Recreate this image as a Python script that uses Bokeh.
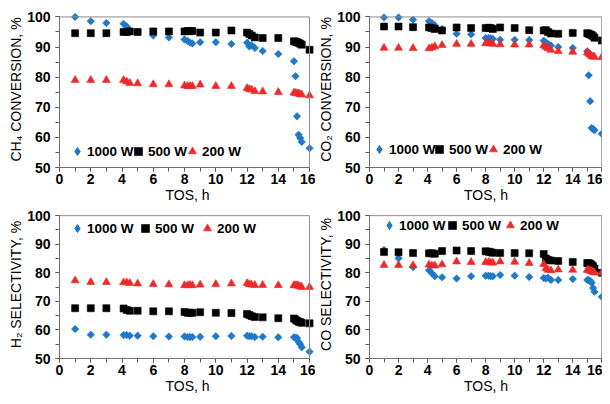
from math import pi
from bokeh.plotting import figure
from bokeh.models import Legend, LegendItem, BoxAnnotation, SingleIntervalTicker, Range1d
from bokeh.layouts import column, row
from bokeh.embed import file_html
from bokeh.resources import INLINE

# ---------------- data ----------------
TOS = [1, 2, 3, 4.1, 4.3, 4.5, 5, 6, 7, 8, 8.2, 8.35, 8.5, 9, 10, 11, 12, 12.15, 12.3, 12.5,
       13, 14, 15, 15.1, 15.2, 15.3, 15.4, 15.5, 16]

SERIES = ["1000 W", "500 W", "200 W"]

ch4_conv_1000 = [100, 98.6, 98.0, 97.7, 96.8, 95.6, 95.0, 93.8, 93.2, 92.5, 92.0, 91.5, 91.2, 91.6,
                 91.6, 91.0, 91.4, 90.2, 90.6, 89.7, 88.7, 87.7, 85.3, 80.3, 67.0, 60.9, 59.8, 58.5, 56.4]
ch4_conv_500 = [94.6, 94.6, 94.6, 95.0, 95.0, 95.2, 95.0, 95.2, 95.2, 95.2, 95.3, 95.3, 95.3, 94.8,
                94.8, 95.5, 94.8, 94.3, 93.8, 93.2, 93.0, 93.0, 91.9, 91.8, 91.6, 91.4, 91.1, 90.8, 89.1]
ch4_conv_200 = [79.0, 79.0, 79.0, 79.0, 78.5, 78.0, 77.9, 77.6, 77.6, 77.2, 77.0, 77.0, 77.0, 77.5,
                77.0, 77.0, 76.3, 76.0, 75.8, 75.3, 75.2, 75.0, 74.8, 74.7, 74.6, 74.5, 74.3, 74.2, 73.9]

co2_conv_1000 = [99.8, 99.8, 99.1, 98.6, 98.0, 97.2, 96.0, 94.4, 94.2, 93.0, 93.0, 92.9, 92.7, 92.4,
                 92.4, 92.3, 92.1, 91.5, 91.0, 90.5, 90.0, 89.7, 88.6, 80.6, 72.0, 63.1, 62.8, 62.4, 61.2]
co2_conv_500 = [96.8, 96.8, 96.6, 96.5, 96.3, 96.0, 95.5, 96.5, 96.3, 96.3, 96.4, 96.3, 96.0, 96.5,
                96.3, 95.6, 95.5, 95.6, 95.0, 94.5, 94.4, 94.7, 94.6, 94.4, 94.2, 94.0, 93.6, 93.1, 92.2]
co2_conv_200 = [89.7, 89.7, 89.6, 89.5, 89.8, 90.2, 90.6, 91.0, 91.0, 91.2, 91.3, 91.2, 91.0, 90.9,
                90.8, 90.8, 90.5, 90.0, 89.5, 89.0, 88.6, 88.4, 88.2, 87.8, 87.4, 87.0, 86.8, 86.7, 86.6]

h2_sel_1000 = [60.3, 58.3, 58.3, 58.2, 58.2, 58.0, 58.0, 57.8, 57.7, 57.7, 57.5, 57.5, 57.5, 57.6,
               57.8, 57.9, 58.0, 57.8, 57.8, 57.5, 57.6, 57.4, 57.4, 57.3, 57.2, 55.8, 55.0, 53.9, 52.4]
h2_sel_500 = [67.6, 67.6, 67.6, 67.5, 67.0, 66.7, 66.7, 66.5, 66.5, 66.3, 66.0, 66.0, 66.0, 66.2,
              66.0, 65.9, 65.6, 65.2, 64.8, 64.5, 64.4, 64.1, 64.0, 63.6, 63.2, 62.9, 62.7, 62.5, 62.3]
h2_sel_200 = [77.3, 76.7, 76.7, 76.6, 76.6, 76.4, 76.2, 76.0, 75.9, 75.6, 75.6, 75.7, 75.6, 75.8,
              76.0, 76.2, 76.3, 76.0, 75.8, 75.7, 75.7, 75.6, 75.6, 75.6, 75.6, 75.4, 75.2, 75.0, 75.0]

co_sel_1000 = [88.0, 85.1, 82.0, 80.9, 79.8, 78.8, 78.4, 78.0, 78.8, 79.0, 79.0, 78.8, 78.8, 79.2,
               79.0, 78.5, 78.2, 78.0, 78.3, 77.5, 77.5, 77.8, 77.5, 77.4, 77.2, 76.5, 74.7, 73.4, 71.6]
co_sel_500 = [87.3, 87.2, 86.9, 86.8, 86.8, 86.7, 87.6, 87.8, 87.6, 87.5, 87.4, 87.2, 87.0, 86.9,
              86.9, 86.8, 86.6, 85.0, 84.5, 84.3, 84.1, 83.8, 83.4, 83.3, 83.2, 82.8, 82.3, 81.5, 80.0]
co_sel_200 = [82.7, 82.7, 82.6, 82.8, 82.5, 82.5, 82.9, 83.9, 83.7, 83.7, 83.7, 83.5, 83.5, 83.9,
              83.8, 83.4, 83.0, 81.5, 81.0, 80.8, 81.1, 81.0, 81.0, 80.9, 80.7, 80.5, 80.3, 80.0, 80.0]

X_TICK_INTERVAL = 2
Y_TICK_INTERVAL = 10
X_TITLE = "TOS, h"

# ---------------- style ----------------
FONT = "Liberation Sans"
BLUE = "#1f78c8"
BLACK = "#000000"
RED = "#ec2a2a"
AXIS_COLOR = "#595959"
FRAME_COLOR = "#8c8c8c"


def make_panel(width, height, bl, br, bt, bb, x_end, vals, ytitle, leg_xs, leg_y):
    p = figure(width=width, height=height, output_backend="svg", toolbar_location=None,
               x_range=Range1d(0, x_end), y_range=Range1d(50, 101.8),
               min_border_left=bl, min_border_right=br, min_border_top=bt, min_border_bottom=bb)
    p.outline_line_color = None
    p.grid.visible = False
    p.border_fill_color = "white"
    p.background_fill_color = "white"

    p.xaxis.ticker = SingleIntervalTicker(interval=X_TICK_INTERVAL, num_minor_ticks=2)
    p.yaxis.ticker = SingleIntervalTicker(interval=Y_TICK_INTERVAL, num_minor_ticks=2)
    p.xaxis.bounds = (0, 16)
    p.yaxis.bounds = (50, 100)
    p.xaxis.axis_label = X_TITLE
    p.yaxis.axis_label = ytitle
    for ax in p.axis:
        ax.axis_line_color = AXIS_COLOR
        ax.major_tick_line_color = AXIS_COLOR
        ax.minor_tick_line_color = AXIS_COLOR
        ax.major_tick_in = 0
        ax.major_tick_out = 4
        ax.minor_tick_in = 0
        ax.minor_tick_out = 4
        ax.major_label_text_font = FONT
        ax.major_label_text_font_size = "14px"
        ax.major_label_text_font_style = "bold"
        ax.major_label_text_color = "black"
        ax.axis_label_text_font = FONT
        ax.axis_label_text_font_size = "14px"
        ax.axis_label_text_font_style = "normal"
        ax.axis_label_text_color = "black"
        ax.axis_label_standoff = 0
    p.xaxis.major_label_standoff = 2
    p.yaxis.major_label_standoff = 5

    p.add_layout(BoxAnnotation(left=0, right=16, bottom=50, top=100, fill_alpha=0,
                               line_color=FRAME_COLOR, line_alpha=1, line_width=1))

    # legend swatch for the diamond series (legend glyphs ignore marker angle);
    # it sits hidden under the first real point
    r1_key = p.scatter(TOS[:1], vals[0][:1], marker="diamond", size=4, color=BLUE)
    r1 = p.scatter(TOS, vals[0], marker="square", angle=pi / 4, size=5.3, color=BLUE, line_width=0.6)
    r2 = p.scatter(TOS, vals[1], marker="square", size=7, color=BLACK, line_width=0.6)
    r3 = p.scatter(TOS, vals[2], marker="triangle", size=8, color=RED, line_width=0.6)

    for lab, rend, lx in zip(SERIES, [r1_key, r2, r3], leg_xs):
        legend = Legend(items=[LegendItem(label=lab, renderers=[rend])],
                        orientation="horizontal", location=(lx, leg_y),
                        glyph_width=20, glyph_height=20, label_height=20, label_width=1,
                        spacing=0, label_standoff=0, padding=0, margin=0,
                        border_line_color=None, background_fill_alpha=0,
                        label_text_font=FONT, label_text_font_size="13.5px",
                        label_text_font_style="bold", label_text_color="black")
        p.add_layout(legend)
    return p


tl = make_panel(315, 205, 59, 0, 11, 37, 16.38,
                [ch4_conv_1000, ch4_conv_500, ch4_conv_200],
                "CH\u2084 CONVERSION, %", (8, 69, 123), 6)
tr = make_panel(287, 205, 53, 0, 11, 37, 16.05,
                [co2_conv_1000, co2_conv_500, co2_conv_200],
                "CO\u2082 CONVERSION, %", (0, 60, 114), 8)
bl = make_panel(315, 191, 59, 0, 5, 37, 16.38,
                [h2_sel_1000, h2_sel_500, h2_sel_200],
                "H\u2082 SELECTIVITY, %", (8, 76, 138), 120)
br = make_panel(287, 191, 53, 0, 5, 37, 16.05,
                [co_sel_1000, co_sel_500, co_sel_200],
                "CO SELECTIVITY, %", (10, 73, 131), 123)

layout = column(row(tl, tr), row(bl, br))

open("out.html", "w").write(file_html(layout, INLINE))
